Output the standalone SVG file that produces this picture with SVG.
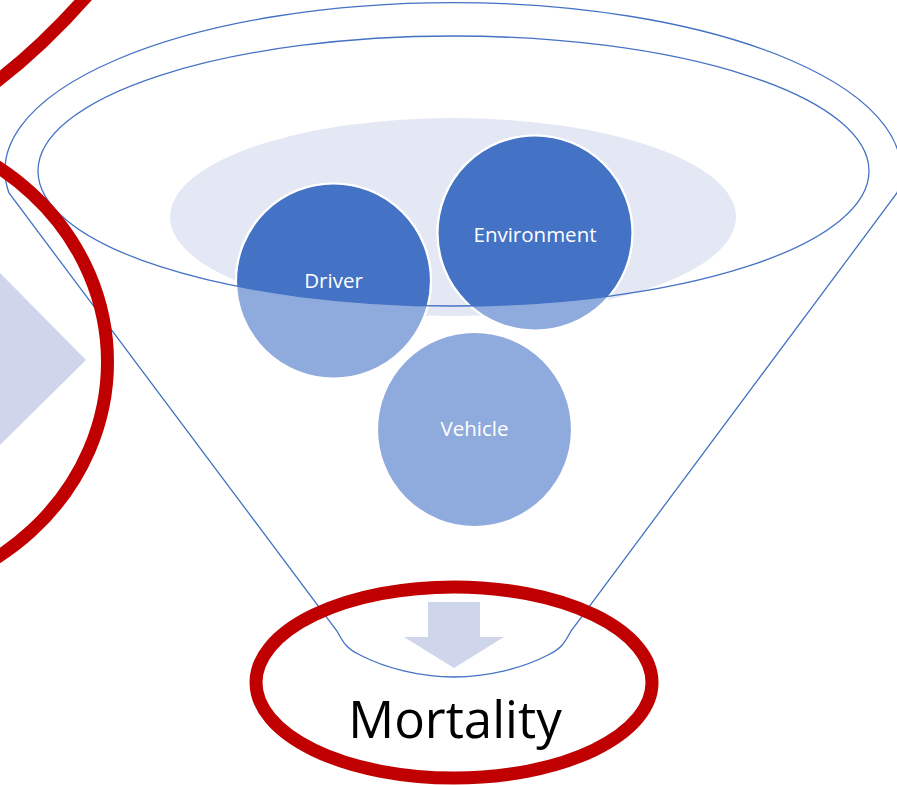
<svg xmlns="http://www.w3.org/2000/svg" width="897" height="785" viewBox="0 0 897 785">
<defs>
<style>
.red{fill:none;stroke:#C00000;stroke-width:13}
.fl{fill:none;stroke:#4472C4;stroke-width:1.3}
.lite{fill:#8FAADC;stroke:#FFFFFF;stroke-width:2.2}
.dark{fill:#4472C4;stroke:#FFFFFF;stroke-width:2.2}
.lbl{font-family:"Open Sans","Liberation Sans",sans-serif;font-size:20.5px;fill:#FFFFFF;text-anchor:middle}
.lav{fill:#CFD5EA}
</style>
<clipPath id="inner"><ellipse cx="453.5" cy="171" rx="415.5" ry="135"/></clipPath>
</defs>
<rect width="897" height="785" fill="#FFFFFF"/>
<g id="left-chevron"><polygon class="lav" points="-10,263 86,360 -10,455"/></g>
<g id="funnel">
<path class="fl" d="M 9,193 A 448 168 0 1 1 897,193 L 571,631 C 566,640 563,648 548,655 C 523,668 488,677 454,677 C 420,677 385,668 360,655 C 345,648 342,640 337,631 Z"/>
<ellipse cx="453" cy="217" rx="283" ry="99" fill="#E4E8F4"/>
</g>
<g id="driver">
<circle class="lite" cx="333.5" cy="281" r="97.5"/>
<circle class="dark" cx="333.5" cy="281" r="97.5" clip-path="url(#inner)"/>
<text class="lbl" x="333.5" y="288">Driver</text>
</g>
<g id="environment">
<circle class="lite" cx="535" cy="233" r="97.5"/>
<circle class="dark" cx="535" cy="233" r="97.5" clip-path="url(#inner)"/>
<text class="lbl" x="535" y="242">Environment</text>
</g>
<g id="vehicle">
<circle class="lite" cx="474.5" cy="429.5" r="97.5"/>
<text class="lbl" x="474.5" y="436">Vehicle</text>
</g>
<g id="funnel-rim"><ellipse class="fl" cx="453.5" cy="171" rx="415.5" ry="135"/></g>
<g id="connectors">
<polygon class="lav" points="428,602 480,602 480,637 504,637 454,668 404,637 428,637"/>
</g>
<g id="mortality">
<ellipse class="red" cx="454" cy="682.5" rx="198" ry="95.5"/>
<text x="455" y="738" font-family="'Open Sans','Liberation Sans',sans-serif" font-size="51" fill="#000000" text-anchor="middle">Mortality</text>
</g>
<g id="red-marks">
<ellipse class="red" cx="-150" cy="362" rx="257.5" ry="238"/>
<path class="red" d="M -12,88 Q 42,48 92,-10"/>
</g>
</svg>
